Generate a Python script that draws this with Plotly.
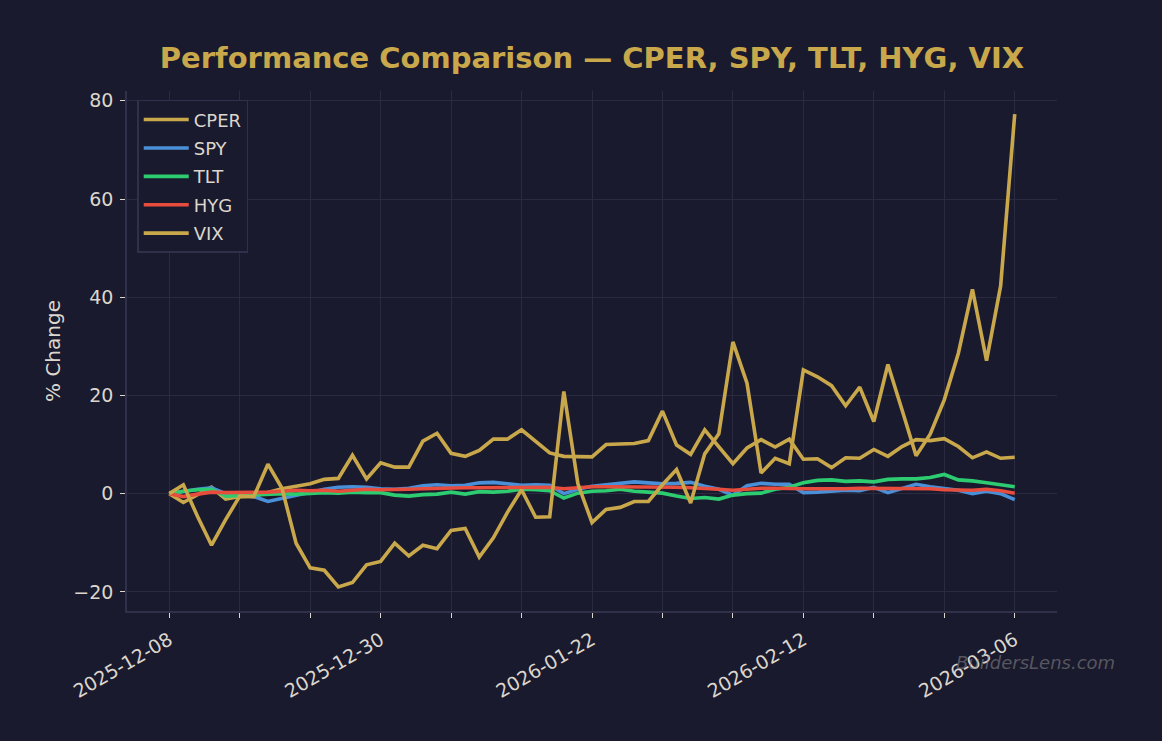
import plotly.graph_objects as go

dates = [
    "2025-12-08", "2025-12-09", "2025-12-10", "2025-12-11", "2025-12-12",
    "2025-12-15", "2025-12-16", "2025-12-17", "2025-12-18", "2025-12-19",
    "2025-12-22", "2025-12-23", "2025-12-24", "2025-12-26", "2025-12-29",
    "2025-12-30", "2025-12-31", "2026-01-02", "2026-01-05", "2026-01-06",
    "2026-01-07", "2026-01-08", "2026-01-09", "2026-01-12", "2026-01-13",
    "2026-01-14", "2026-01-15", "2026-01-16", "2026-01-20", "2026-01-21",
    "2026-01-22", "2026-01-23", "2026-01-26", "2026-01-27", "2026-01-28",
    "2026-01-29", "2026-01-30", "2026-02-02", "2026-02-03", "2026-02-04",
    "2026-02-05", "2026-02-06", "2026-02-09", "2026-02-10", "2026-02-11",
    "2026-02-12", "2026-02-13", "2026-02-17", "2026-02-18", "2026-02-19",
    "2026-02-20", "2026-02-23", "2026-02-24", "2026-02-25", "2026-02-26",
    "2026-02-27", "2026-03-02", "2026-03-03", "2026-03-04", "2026-03-05",
    "2026-03-06",
]

cper = [0.0, -1.8, -0.2, 1.3, -1.1, -0.6, -0.5, 0.3, 1.0, 1.5,
        2.0, 2.9, 3.1, 7.8, 3.0, 6.3, 5.4, 5.4, 10.7, 12.3,
        8.2, 7.6, 8.8, 11.1, 11.1, 13.0, 10.7, 8.3, 7.6, 7.5,
        7.5, 10.0, 10.1, 10.2, 10.8, 16.8, 9.9, 8.0, 13.0, 9.6,
        6.1, 9.3, 11.0, 9.5, 11.1, 7.0, 7.1, 5.3, 7.3, 7.2,
        9.0, 7.6, 9.6, 11.0, 10.8, 11.2, 9.6, 7.3, 8.5, 7.2,
        7.4]

spy = [0.0, 0.5, 0.9, 1.2, 0.0, -0.3, -0.6, -1.6, -1.0, -0.4,
       0.3, 0.9, 1.3, 1.4, 1.3, 1.0, 0.9, 1.1, 1.6, 1.8,
       1.6, 1.7, 2.2, 2.3, 2.0, 1.7, 1.8, 1.7, 0.0, 0.9,
       1.5, 1.8, 2.2, 2.4, 2.2, 2.0, 2.1, 2.3, 1.5, 0.9,
       -0.3, 1.6, 2.1, 1.9, 1.9, 0.2, 0.3, 0.5, 0.7, 0.6,
       1.3, 0.2, 1.1, 1.9, 1.4, 1.0, 0.7, 0.0, 0.5, 0.0,
       -1.2]

tlt = [0.0, 0.5, 0.8, 0.9, -0.5, -0.4, -0.3, -0.2, 0.0, -0.1,
       0.1, 0.2, 0.1, 0.3, 0.2, 0.2, -0.3, -0.5, -0.2, -0.1,
       0.3, -0.1, 0.4, 0.3, 0.5, 0.9, 0.8, 0.6, -0.9, 0.1,
       0.5, 0.6, 0.9, 0.5, 0.3, 0.1, -0.5, -1.0, -0.8, -1.1,
       -0.3, 0.0, 0.1, 0.9, 1.3, 2.2, 2.7, 2.8, 2.5, 2.6,
       2.4, 2.9, 3.0, 3.0, 3.3, 3.9, 2.8, 2.6, 2.2, 1.8,
       1.4]

hyg = [0.0, -0.6, -0.1, 0.3, 0.2, 0.2, 0.2, 0.3, 0.5, 0.7,
       0.6, 0.7, 0.5, 0.7, 0.9, 0.8, 0.8, 0.9, 1.0, 1.1,
       1.1, 1.2, 1.2, 1.2, 1.3, 1.3, 1.3, 1.3, 1.0, 1.2,
       1.4, 1.4, 1.4, 1.4, 1.3, 1.3, 1.3, 1.2, 1.1, 0.9,
       0.7, 0.9, 1.1, 1.1, 1.0, 1.0, 1.0, 0.95, 1.0, 1.1,
       1.1, 1.1, 1.15, 1.1, 1.0, 0.8, 0.8, 0.7, 0.9, 0.6,
       0.1]

vix = [0.0, 1.8, -4.6, -10.5, -5.3, -0.5, -0.6, 6.0, 1.1, -10.1,
       -15.1, -15.6, -19.0, -18.1, -14.5, -13.8, -10.1, -12.7, -10.5, -11.2,
       -7.5, -7.1, -12.9, -9.0, -3.8, 0.8, -4.8, -4.7, 20.8, 2.0,
       -5.9, -3.2, -2.8, -1.6, -1.6, 1.8, 4.9, -1.9, 8.1, 12.2,
       30.9, 22.5, 4.2, 7.2, 6.1, 25.2, 23.8, 22.0, 17.9, 21.7,
       14.7, 26.3, 17.1, 7.7, 12.1, 19.1, 28.6, 41.6, 27.1, 42.3,
       77.3]

series_names = ["CPER", "SPY", "TLT", "HYG", "VIX"]
series_values = [cper, spy, tlt, hyg, vix]
series_colors = ["#c9a84c", "#4a90d9", "#2ecc71", "#e74c3c", "#c9a84c"]

tick_vals = dates[::5]
tick_text = [d if i % 3 == 0 else "" for i, d in enumerate(tick_vals)]

BG = "#1a1a2e"
TXT = "#dcd6cc"
GRID = "#2a2a40"
SPINE = "#30304a"
FONT = "DejaVu Sans"

fig = go.Figure()
for name, vals, col in zip(series_names, series_values, series_colors):
    fig.add_trace(go.Scatter(
        x=dates, y=vals, mode="lines", name=name, legendgroup=name,
        line=dict(color=col, width=3.6),
    ))

fig.update_layout(
    width=1162, height=741,
    margin=dict(l=127, r=105, t=91, b=130),
    paper_bgcolor=BG, plot_bgcolor=BG,
    font=dict(family=FONT, color=TXT, size=18),
    title=dict(
        text="<b>Performance Comparison — CPER, SPY, TLT, HYG, VIX</b>",
        font=dict(family=FONT, size=29, color="#c9a84c"),
        x=0.5, xref="paper", xanchor="center",
        y=1 - 58 / 741, yref="container", yanchor="middle",
    ),
    showlegend=True,
    legend=dict(
        x=0.011, y=0.983, xanchor="left", yanchor="top",
        bgcolor=BG, bordercolor=SPINE, borderwidth=1.5,
        font=dict(family=FONT, size=18, color=TXT),
        tracegroupgap=2, itemwidth=45,
    ),
    xaxis=dict(
        type="category",
        range=[-3, 63],
        tickmode="array", tickvals=tick_vals, ticktext=tick_text,
        tickangle=-30,
        ticks="outside", ticklen=5, tickcolor=TXT, tickwidth=1.2,
        ticklabelstandoff=4,
        showgrid=True, gridcolor=GRID, gridwidth=1,
        showline=True, linecolor=SPINE, linewidth=1.5,
        zeroline=False,
        tickfont=dict(family=FONT, size=19, color=TXT),
    ),
    yaxis=dict(
        range=[-23.9, 82.0],
        tickmode="array", tickvals=[-20, 0, 20, 40, 60, 80],
        ticks="outside", ticklen=5, tickcolor=TXT, tickwidth=1.2,
        ticklabelstandoff=3,
        showgrid=True, gridcolor=GRID, gridwidth=1,
        showline=True, linecolor=SPINE, linewidth=1.5,
        zeroline=False,
        tickfont=dict(family=FONT, size=19, color=TXT),
        title=dict(text="% Change", font=dict(family=FONT, size=20, color=TXT), standoff=7),
    ),
    annotations=[dict(
        text="BuildersLens.com", xref="paper", yref="paper",
        x=(1117 - 127) / 930, y=(611 - 662) / 520,
        xanchor="right", yanchor="middle", showarrow=False,
        font=dict(family=FONT, size=18, color="rgba(140,140,140,0.55)", style="italic"),
    )],
)

fig.write_html("out.html")
